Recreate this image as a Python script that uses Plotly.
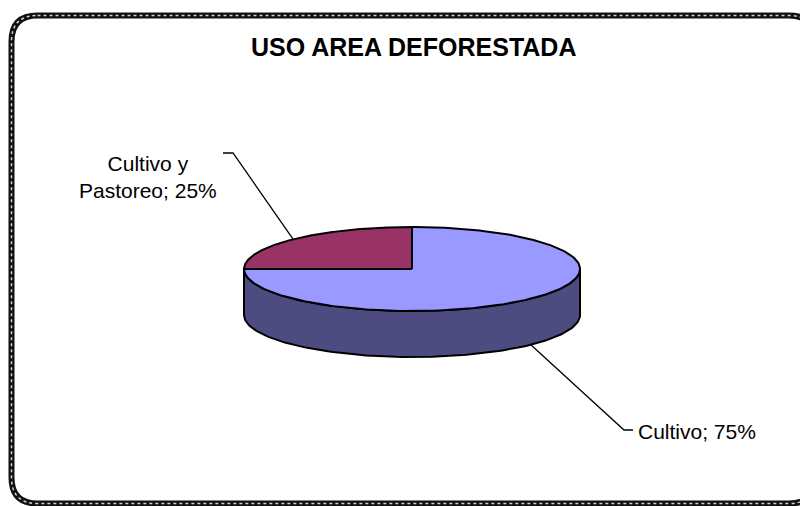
import numpy as np
import plotly.graph_objects as go

# ---- data ----
categories = ["Cultivo", "Cultivo y Pastoreo"]
values = [75, 25]
label_texts = ["Cultivo; 75%", "Cultivo y<br>Pastoreo; 25%"]
title_text = "USO AREA DEFORESTADA"

# ---- styling / geometry (page pixel space) ----
W, H = 808, 506
OFF = 8  # browser body margin
top_colors = ["#9999FF", "#993366"]
side_colors = ["#4C4C80", "#4D1A33"]
CX, CY, A, B, DEPTH = 412.0, 269.0, 168.0, 42.0, 46.0
FONT = "Arial, Liberation Sans, sans-serif"


def ell(theta_deg, dy=0.0):
    t = np.radians(theta_deg)
    return CX + A * np.sin(t), CY - B * np.cos(t) + dy


fig = go.Figure()

total = float(sum(values))
fracs = [v / total for v in values]
starts = np.concatenate([[0.0], np.cumsum(fracs)[:-1]]) * 360.0
ends = np.cumsum(fracs) * 360.0

# side faces (front half visible: 90..270 deg clockwise from 12 o'clock)
for i in range(len(values)):
    s, e = max(starts[i], 90.0), min(ends[i], 270.0)
    if e <= s:
        continue
    th = np.linspace(s, e, 120)
    xt, yt = ell(th)
    xb, yb = ell(th[::-1], DEPTH)
    xs = np.concatenate([xt, xb, [xt[0]]])
    ys = np.concatenate([yt, yb, [yt[0]]])
    fig.add_trace(go.Scatter(x=xs, y=ys, mode="lines", fill="toself",
                             fillcolor=side_colors[i],
                             line=dict(color="black", width=2),
                             hoverinfo="skip", showlegend=False))

# top faces
for i in range(len(values)):
    th = np.linspace(starts[i], ends[i], 240)
    xe, ye = ell(th)
    xs = np.concatenate([[CX], xe, [CX]])
    ys = np.concatenate([[CY], ye, [CY]])
    fig.add_trace(go.Scatter(x=xs, y=ys, mode="lines", fill="toself",
                             fillcolor=top_colors[i],
                             line=dict(color="black", width=2),
                             hoverinfo="skip", showlegend=False,
                             name=categories[i]))

# leader lines from slice mid-angles to label anchors
mids = (starts + ends) / 2.0
label_anchor = [(633, 430), (223, 153)]
elbow = [(624, 430), (233, 153)]
for i in range(len(values)):
    dy = DEPTH if 90 < mids[i] < 270 else 0.0
    mx, my = ell(mids[i], dy)
    fig.add_trace(go.Scatter(x=[mx, elbow[i][0], label_anchor[i][0]],
                             y=[my, elbow[i][1], label_anchor[i][1]],
                             mode="lines", line=dict(color="black", width=1.3),
                             hoverinfo="skip", showlegend=False))

fig.add_annotation(x=636, y=431, text=label_texts[0], showarrow=False,
                   xanchor="left", yanchor="middle",
                   font=dict(family=FONT, size=21, color="black"))
fig.add_annotation(x=148, y=177, text=label_texts[1], showarrow=False,
                   xanchor="center", yanchor="middle", align="center",
                   font=dict(family=FONT, size=21, color="black"))
fig.add_annotation(x=413, y=47, text="<b>" + title_text + "</b>", showarrow=False,
                   xanchor="center", yanchor="middle",
                   font=dict(family=FONT, size=25, color="black"))

# rounded border
x0, y0, x1, y1, r = 11.5, 15.5, 815, 503.5, 26
path = (f"M {x0+r},{y0} L {x1-r},{y0} Q {x1},{y0} {x1},{y0+r} "
        f"L {x1},{y1-r} Q {x1},{y1} {x1-r},{y1} L {x0+r},{y1} "
        f"Q {x0},{y1} {x0},{y1-r} L {x0},{y0+r} Q {x0},{y0} {x0+r},{y0} Z")
fig.add_shape(type="path", path=path, xref="x", yref="y",
              line=dict(color="#111111", width=6), layer="above")
fig.add_shape(type="path", path=path, xref="x", yref="y",
              line=dict(color="#cfcfcf", width=1.5, dash="dot"), layer="above")

fig.update_layout(
    width=W - OFF, height=H - OFF, autosize=False,
    margin=dict(l=0, r=0, t=0, b=0),
    paper_bgcolor="white", plot_bgcolor="white",
    xaxis=dict(range=[OFF, W], visible=False, fixedrange=True),
    yaxis=dict(range=[H, OFF], visible=False, fixedrange=True),
    showlegend=False,
)

fig.write_html("out.html")
